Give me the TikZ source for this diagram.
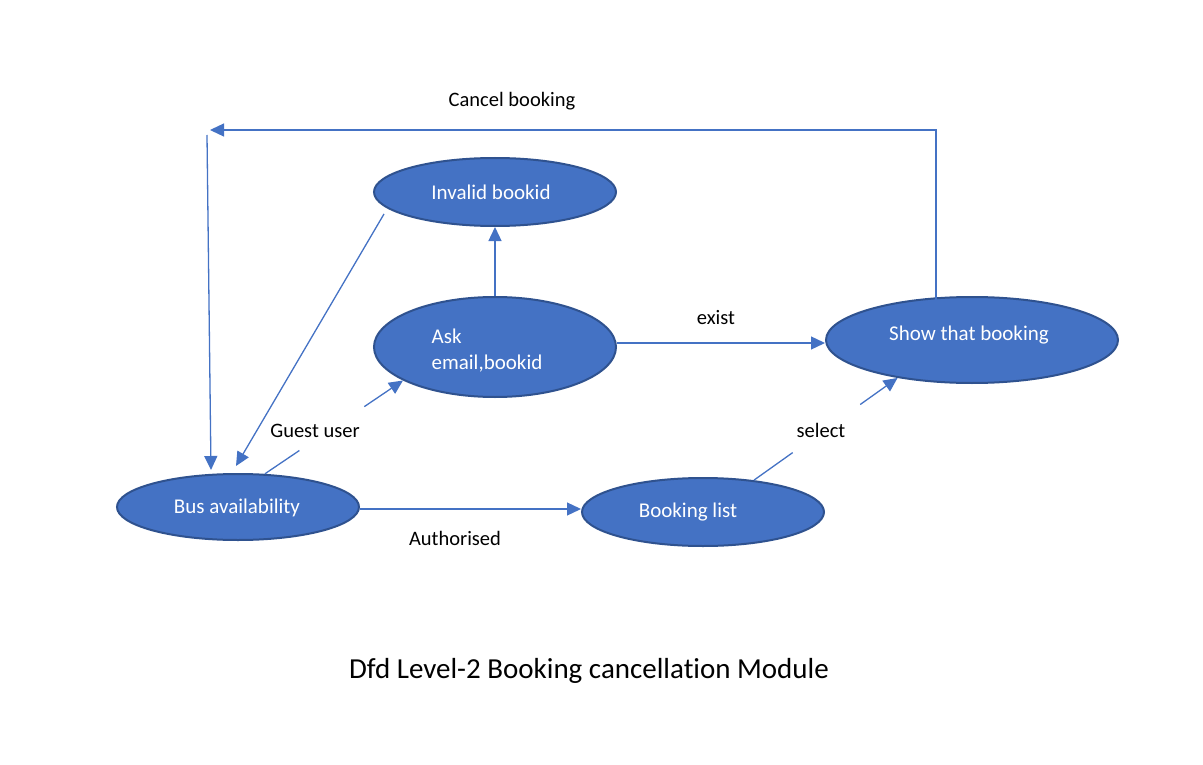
\documentclass[tikz,border=0pt]{standalone}
\usepackage{fontspec}
\setmainfont{Carlito}[Ligatures=NoCommon]
\usepackage{tikz}
\usetikzlibrary{calc,arrows.meta,shapes.geometric}
\definecolor{procfill}{HTML}{4472C4}
\definecolor{procedge}{HTML}{2F528F}
\definecolor{flowcol}{HTML}{4472C4}

\tikzset{
  proc/.style={ellipse, draw=procedge, line width=2pt, fill=procfill, text=white,
    inner sep=0pt, minimum width=242pt, minimum height=68pt},
  ptext/.style={text=white, font=\fontsize{21}{26}\selectfont},
  flow/.style={draw=flowcol, line width=1.3pt},
  arr/.style={flow, -{Triangle[length=14pt,width=13pt]}},
  lbl/.style={font=\fontsize{20.5}{24}\selectfont, text=black}
}

\begin{document}
\begin{tikzpicture}[x=1pt,y=-1pt]
\useasboundingbox (0,0) rectangle (1203,765);
% processes
\node[proc] (inv) at (495,192) {};
\node[proc, minimum height=100pt] (ask) at (495,347) {};
\node[proc, minimum width=292pt, minimum height=86pt] (show) at (972,340) {};
\node[proc, minimum height=66pt] (bus) at (238,507) {};
\node[proc] (blist) at (703,512) {};
\node[ptext] at (491,192) {Invalid bookid};
\node[ptext, align=left] at (487,351) {Ask\\email,bookid};
\node[ptext] at (969,335) {Show that booking};
\node[ptext] at (237,508) {Bus availability};
\node[ptext] at (688,512) {Booking list};

% cancel booking loop
\coordinate (c1) at (936,130);
\coordinate (c2) at (210,130);
\coordinate (c3) at (207,135);
\coordinate (c4) at (211,470);
\draw[arr] (show.north west -| c1) |- (c2);
\draw[arr] (c3) -- (c4);
\node[lbl] (lcancel) at (512,101) {Cancel booking};

% invalid bookid back to bus availability
\coordinate (i1) at (384,214);
\coordinate (i2) at (236,466);
\draw[arr] (i1) -- (i2);

% ask -> invalid, ask -> show
\draw[arr] (ask.north) -- (inv.south);
\coordinate (e1) at (617,343);
\draw[arr] (e1) -- (e1 -| show.west);
\node[lbl] (lexist) at (716,318) {exist};

% bus -> ask (guest user)
\draw[flow] (bus.51) -- ($(bus.51)!0.25!(ask.200)$);
\draw[arr] ($(bus.51)!0.72!(ask.200)$) -- (ask.200);
\node[lbl] (lguest) at (315,431) {Guest user};

% bus -> booking list
\coordinate (a1) at (360,509);
\draw[arr] (a1) -- (a1 -| blist.west);
\node[lbl] (lauth) at (455,538) {Authorised};

% booking list -> show (select)
\draw[flow] (blist.32.6) -- ($(blist.32.6)!0.27!(show.207.8)$);
\draw[arr] ($(blist.32.6)!0.74!(show.207.8)$) -- (show.207.8);
\node[lbl] (lselect) at (821,430) {select};

% title
\node[font=\fontsize{29}{34}\selectfont] (title) at (589,671) {Dfd Level-2 Booking cancellation Module};
\end{tikzpicture}
\end{document}
